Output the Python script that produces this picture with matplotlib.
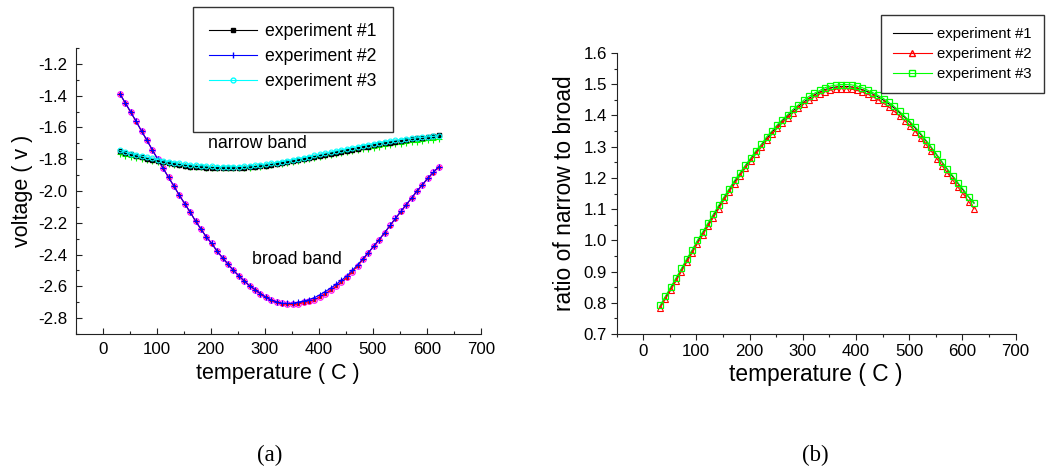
"""Voltage and narrow/broad ratio vs temperature, two panels."""
import matplotlib
matplotlib.use("Agg")
import matplotlib.pyplot as plt
from matplotlib.lines import Line2D
from matplotlib.ticker import MultipleLocator

plt.rcParams["font.family"] = ["Liberation Sans", "DejaVu Sans"]

temperature = [
    32, 42, 52, 62, 72, 82, 92, 102, 112, 122,
    132, 142, 152, 162, 172, 182, 192, 202, 212, 222,
    232, 242, 252, 262, 272, 282, 292, 302, 312, 322,
    332, 342, 352, 362, 372, 382, 392, 402, 412, 422,
    432, 442, 452, 462, 472, 482, 492, 502, 512, 522,
    532, 542, 552, 562, 572, 582, 592, 602, 612, 622,
]

# (a) narrow band voltages
narrow_1 = [
    -1.748, -1.760, -1.770, -1.779, -1.788, -1.797, -1.805, -1.813, -1.820, -1.826,
    -1.832, -1.837, -1.842, -1.846, -1.849, -1.852, -1.854, -1.856, -1.857, -1.858,
    -1.858, -1.858, -1.857, -1.855, -1.852, -1.849, -1.845, -1.840, -1.835, -1.830,
    -1.825, -1.819, -1.813, -1.807, -1.801, -1.794, -1.788, -1.781, -1.775, -1.768,
    -1.761, -1.754, -1.747, -1.740, -1.733, -1.726, -1.720, -1.713, -1.707, -1.701,
    -1.695, -1.689, -1.684, -1.679, -1.674, -1.669, -1.664, -1.659, -1.654, -1.648,
]
narrow_2 = [
    -1.770, -1.778, -1.786, -1.793, -1.800, -1.807, -1.813, -1.819, -1.825, -1.830,
    -1.835, -1.839, -1.843, -1.846, -1.849, -1.852, -1.854, -1.856, -1.857, -1.858,
    -1.858, -1.858, -1.857, -1.855, -1.853, -1.850, -1.846, -1.842, -1.837, -1.832,
    -1.827, -1.822, -1.816, -1.810, -1.804, -1.798, -1.792, -1.786, -1.780, -1.774,
    -1.768, -1.762, -1.756, -1.750, -1.744, -1.738, -1.733, -1.727, -1.722, -1.717,
    -1.712, -1.707, -1.702, -1.698, -1.694, -1.690, -1.686, -1.682, -1.678, -1.674,
]
narrow_3 = [
    -1.745, -1.755, -1.764, -1.772, -1.780, -1.788, -1.795, -1.802, -1.809, -1.815,
    -1.821, -1.826, -1.831, -1.835, -1.838, -1.841, -1.843, -1.845, -1.846, -1.847,
    -1.847, -1.847, -1.846, -1.844, -1.842, -1.839, -1.835, -1.831, -1.826, -1.821,
    -1.815, -1.809, -1.803, -1.797, -1.790, -1.783, -1.776, -1.769, -1.762, -1.755,
    -1.748, -1.741, -1.734, -1.727, -1.720, -1.714, -1.708, -1.702, -1.696, -1.690,
    -1.685, -1.680, -1.676, -1.672, -1.668, -1.665, -1.662, -1.659, -1.656, -1.653,
]

# (a) broad band voltages
broad_1 = [
    -1.391, -1.447, -1.505, -1.563, -1.623, -1.682, -1.742, -1.801, -1.858, -1.914,
    -1.971, -2.027, -2.081, -2.134, -2.189, -2.240, -2.289, -2.331, -2.379, -2.421,
    -2.461, -2.499, -2.534, -2.566, -2.597, -2.621, -2.646, -2.668, -2.687, -2.700,
    -2.709, -2.713, -2.714, -2.711, -2.702, -2.696, -2.684, -2.668, -2.647, -2.626,
    -2.601, -2.574, -2.545, -2.509, -2.472, -2.431, -2.389, -2.347, -2.306, -2.263,
    -2.218, -2.174, -2.130, -2.087, -2.045, -2.001, -1.961, -1.921, -1.884, -1.849,
]
broad_2 = [
    -1.390, -1.446, -1.504, -1.562, -1.623, -1.681, -1.742, -1.800, -1.858, -1.914,
    -1.970, -2.027, -2.080, -2.133, -2.190, -2.240, -2.290, -2.330, -2.380, -2.420,
    -2.460, -2.500, -2.533, -2.567, -2.596, -2.620, -2.646, -2.669, -2.686, -2.698,
    -2.705, -2.708, -2.706, -2.700, -2.692, -2.684, -2.671, -2.654, -2.633, -2.612,
    -2.588, -2.562, -2.535, -2.500, -2.465, -2.426, -2.388, -2.346, -2.306, -2.263,
    -2.217, -2.173, -2.129, -2.086, -2.044, -2.000, -1.960, -1.920, -1.883, -1.848,
]
broad_3 = [
    -1.390, -1.446, -1.504, -1.562, -1.623, -1.681, -1.742, -1.800, -1.858, -1.914,
    -1.970, -2.027, -2.080, -2.133, -2.190, -2.240, -2.290, -2.330, -2.380, -2.420,
    -2.460, -2.500, -2.533, -2.567, -2.596, -2.620, -2.646, -2.669, -2.686, -2.700,
    -2.708, -2.712, -2.713, -2.710, -2.700, -2.695, -2.683, -2.667, -2.646, -2.625,
    -2.600, -2.573, -2.544, -2.508, -2.471, -2.430, -2.388, -2.346, -2.306, -2.263,
    -2.217, -2.173, -2.129, -2.086, -2.044, -2.000, -1.960, -1.920, -1.883, -1.848,
]

# (b) ratio of narrow to broad
ratio_1 = [
    0.789, 0.817, 0.847, 0.876, 0.906, 0.936, 0.965, 0.995, 1.023, 1.051,
    1.079, 1.107, 1.135, 1.162, 1.188, 1.213, 1.237, 1.260, 1.283, 1.304,
    1.326, 1.346, 1.365, 1.383, 1.399, 1.415, 1.429, 1.443, 1.455, 1.466,
    1.475, 1.483, 1.488, 1.491, 1.493, 1.493, 1.491, 1.488, 1.483, 1.476,
    1.468, 1.459, 1.449, 1.437, 1.424, 1.409, 1.394, 1.377, 1.359, 1.339,
    1.318, 1.296, 1.273, 1.250, 1.227, 1.204, 1.182, 1.160, 1.139, 1.120,
]
ratio_2 = [
    0.784, 0.812, 0.841, 0.870, 0.900, 0.930, 0.959, 0.989, 1.017, 1.045,
    1.073, 1.101, 1.129, 1.156, 1.182, 1.207, 1.231, 1.254, 1.277, 1.298,
    1.320, 1.340, 1.359, 1.377, 1.393, 1.409, 1.423, 1.437, 1.449, 1.460,
    1.469, 1.476, 1.481, 1.484, 1.486, 1.486, 1.484, 1.480, 1.475, 1.468,
    1.460, 1.450, 1.439, 1.427, 1.413, 1.398, 1.383, 1.366, 1.348, 1.328,
    1.307, 1.285, 1.262, 1.239, 1.216, 1.193, 1.170, 1.148, 1.124, 1.101,
]
ratio_3 = [
    0.792, 0.821, 0.851, 0.880, 0.910, 0.941, 0.969, 1.000, 1.027, 1.056,
    1.084, 1.112, 1.139, 1.166, 1.192, 1.216, 1.240, 1.263, 1.287, 1.307,
    1.331, 1.350, 1.370, 1.387, 1.403, 1.420, 1.434, 1.449, 1.461, 1.471,
    1.480, 1.489, 1.494, 1.497, 1.499, 1.499, 1.498, 1.494, 1.489, 1.481,
    1.473, 1.464, 1.454, 1.442, 1.429, 1.413, 1.397, 1.380, 1.362, 1.342,
    1.320, 1.298, 1.275, 1.251, 1.228, 1.207, 1.184, 1.163, 1.139, 1.118,
]

labels = ["experiment #1", "experiment #2", "experiment #3"]

W, H = 1047, 474
fig = plt.figure(figsize=(W / 100, H / 100), dpi=100)


def _rect(x0, y0, x1, y1):
    # pixel box (top-left origin) -> figure fraction rect
    return [x0 / W, 1 - y1 / H, (x1 - x0) / W, (y1 - y0) / H]


ax1 = fig.add_axes(_rect(75.7, 48, 480.7, 334))
ax2 = fig.add_axes(_rect(616.5, 53, 1015.5, 334))

for ax in (ax1, ax2):
    ax.spines["top"].set_visible(False)
    ax.spines["right"].set_visible(False)
    ax.spines["left"].set_color("#222222")
    ax.spines["bottom"].set_color("#222222")
    ax.set_xlim(-50, 700)
    ax.xaxis.set_major_locator(MultipleLocator(100))
    ax.xaxis.set_minor_locator(MultipleLocator(50))

# ---- panel (a)
lw = 0.8
ax1.plot(temperature, broad_3, color="#ff00ff", lw=lw, marker="o", ms=4,
         mfc="none", mec="#ff00ff", mew=0.8)
ax1.plot(temperature, broad_1, color="#ff0000", lw=lw, marker="s", ms=2,
         mfc="#ff0000", mec="#ff0000")
ax1.plot(temperature, broad_2, color="#0000ff", lw=lw, marker="+", ms=4,
         mec="#0000ff", mew=0.8)
ax1.plot(temperature, narrow_2, color="#00ff00", lw=lw, marker="+", ms=4,
         mec="#00ff00", mew=0.8)
ax1.plot(temperature, narrow_1, color="black", lw=lw, marker="s", ms=3,
         mfc="black", mec="black")
ax1.plot(temperature, narrow_3, color="#00ffff", lw=lw, marker="o", ms=3.5,
         mfc="none", mec="#00ffff", mew=0.8)

ax1.set_ylim(-2.9, -1.1)
ax1.yaxis.set_major_locator(MultipleLocator(0.2))
ax1.yaxis.set_minor_locator(MultipleLocator(0.1))
ax1.yaxis.set_major_formatter(plt.FuncFormatter(lambda v, _: f"{v:.1f}"))
ax1.tick_params(which="major", direction="in", length=4, width=0.8,
                labelsize=12.2, colors="#222222", labelcolor="black", pad=6)
ax1.tick_params(which="minor", direction="in", length=2.5, width=0.8,
                colors="#222222")

ax1.text(286, -1.70, "narrow band", fontsize=12.8, ha="center", va="center")
ax1.text(360, -2.43, "broad band", fontsize=12.8, ha="center", va="center")

ax1.set_xlabel("temperature ( C )", fontsize=15.5, labelpad=4)
ax1.set_ylabel("voltage ( v )", fontsize=15.5, labelpad=4)

h1 = [
    Line2D([], [], color="black", lw=lw, marker="s", ms=3),
    Line2D([], [], color="#0000ff", lw=lw, marker="|", ms=4),
    Line2D([], [], color="#00ffff", lw=lw, marker="o", ms=3.5, mfc="none"),
    Line2D([], [], color="none"),
]
leg1 = ax1.legend(h1, labels + [" "], loc="upper left",
                  bbox_to_anchor=(193 / W, 1 - 7 / H),
                  bbox_transform=fig.transFigure, borderaxespad=0,
                  fancybox=False, framealpha=1, edgecolor="#333333",
                  fontsize=12.7, handlelength=2.75, handletextpad=0.45,
                  borderpad=0.9, labelspacing=0.47)
leg1.get_frame().set_linewidth(1.0)

# ---- panel (b)
ax2.plot(temperature, ratio_1, color="black", lw=lw)
ax2.plot(temperature, ratio_2, color="#ff0000", lw=lw, marker="^", ms=4,
         mfc="none", mec="#ff0000", mew=0.8)
ax2.plot(temperature, ratio_3, color="#00ff00", lw=lw, marker="s", ms=4.5,
         mfc="none", mec="#00ff00", mew=0.9)

ax2.set_ylim(0.7, 1.6)
ax2.yaxis.set_major_locator(MultipleLocator(0.1))
ax2.yaxis.set_minor_locator(MultipleLocator(0.05))
ax2.tick_params(which="major", direction="out", length=4, width=0.8,
                labelsize=12.2, colors="#222222", labelcolor="black", pad=3)
ax2.tick_params(which="minor", direction="out", length=2.5, width=0.8,
                colors="#222222")

ax2.set_xlabel("temperature ( C )", fontsize=16.4, labelpad=3)
ax2.set_ylabel("ratio of narrow to broad", fontsize=16.4, labelpad=5)

h2 = [
    Line2D([], [], color="black", lw=lw),
    Line2D([], [], color="#ff0000", lw=lw, marker="^", ms=4, mfc="none"),
    Line2D([], [], color="#00ff00", lw=lw, marker="s", ms=4, mfc="none"),
]
leg2 = ax2.legend(h2, labels, loc="upper left",
                  bbox_to_anchor=(881 / W, 1 - 15 / H),
                  bbox_transform=fig.transFigure, borderaxespad=0,
                  fancybox=False, framealpha=1, edgecolor="#333333",
                  fontsize=10.7, handlelength=2.6, handletextpad=0.4,
                  borderpad=0.8, labelspacing=0.4)
leg2.get_frame().set_linewidth(1.0)

# panel captions
fig.text(270 / W, 1 - 455 / H, "(a)", fontsize=16.5, ha="center", va="center",
         family=["Liberation Serif", "DejaVu Serif"])
fig.text(815 / W, 1 - 455 / H, "(b)", fontsize=16.5, ha="center", va="center",
         family=["Liberation Serif", "DejaVu Serif"])

fig.savefig("out.png", dpi=100)
plt.close(fig)
